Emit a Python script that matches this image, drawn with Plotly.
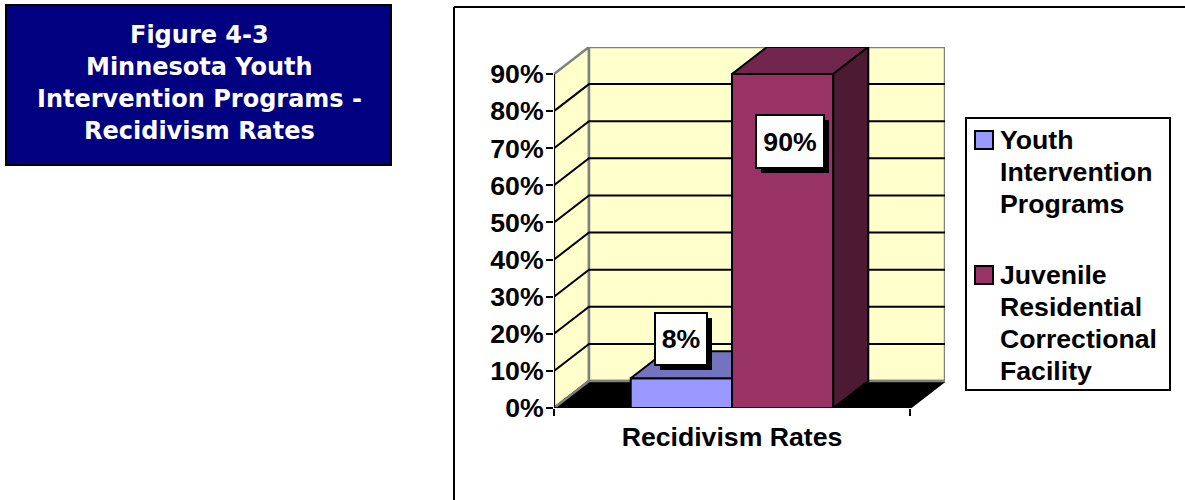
import plotly.graph_objects as go

# Chart data
category = "Recidivism Rates"
series_names = ["Youth Intervention Programs", "Juvenile Residential Correctional Facility"]
legend_lines = [["Youth", "Intervention", "Programs"],
                ["Juvenile", "Residential", "Correctional", "Facility"]]
series_values = [8, 90]
tick_values = [0, 10, 20, 30, 40, 50, 60, 70, 80, 90]
tick_labels = ["0%", "10%", "20%", "30%", "40%", "50%", "60%", "70%", "80%", "90%"]
title_lines = ["Figure 4-3", "Minnesota Youth", "Intervention Programs -", "Recidivism Rates"]

# Page geometry in pixels
W, H = 1185, 500
AX_L, AX_R, AX_B, AX_T = 554, 945, 408, 47
PX_PER_UNIT_Y = (408 - 74) / 90
FRONT_W = 356

# Oblique depth of the 3-D box, in data units
DX = 35 / FRONT_W
DY = 27 / PX_PER_UNIT_Y
BAR_W = 0.2845
BAR_LEFT = [0.2155, 0.5]

FRONT_COLORS = ["#9999FF", "#993366"]
TOP_COLORS = ["#7373BF", "#73264D"]
SIDE_COLORS = ["#4D4D80", "#4D1A33"]
WALL = "#FFFFCC"
GREY = "#808080"
TXT = "#000000"
FONT = "Liberation Sans"
FS = 26.67


def px(x):
    return x / W


def py(y):
    return 1 - y / H


def poly(xs, ys, fill, axes="", line="#000000", width=2):
    return go.Scatter(x=xs, y=ys, mode="lines", fill="toself", fillcolor=fill,
                      line=dict(color=line, width=width), hoverinfo="skip",
                      showlegend=False, xaxis="x" + axes, yaxis="y" + axes)


def seg(xs, ys, color="#000000", width=2, axes=""):
    return go.Scatter(x=xs, y=ys, mode="lines", line=dict(color=color, width=width),
                      hoverinfo="skip", showlegend=False, xaxis="x" + axes, yaxis="y" + axes)


fig = go.Figure()

# Side wall, back wall and floor
top_val = max(tick_values)
fig.add_trace(poly([0, 0, DX, DX, 0], [0, top_val, top_val + DY, DY, 0], WALL, line=GREY, width=2.5))
fig.add_trace(poly([DX, DX, 1 + DX, 1 + DX, DX], [DY, top_val + DY, top_val + DY, DY, DY], WALL, line=GREY, width=2.5))
for v in tick_values[1:-1]:
    fig.add_trace(seg([0, DX, 1 + DX], [v, v + DY, v + DY]))
fig.add_trace(poly([0, DX, 1 + DX, 1, 0], [0, DY, DY, 0, 0], "#000000", line="#000000"))
fig.add_trace(seg([0, DX, 1 + DX], [0, DY, DY], GREY, 2.5))
fig.add_trace(seg([0, 0], [0, top_val]))
fig.add_trace(seg([0, 1], [0, 0]))

# Front faces as real bars on an overlaying axis pair, so they sit above the walls
for name, val, left, col in zip(series_names, series_values, BAR_LEFT, FRONT_COLORS):
    fig.add_trace(go.Bar(x=[left + BAR_W / 2], y=[val], width=[BAR_W], name=name,
                         marker=dict(color=col, line=dict(color="#000000", width=2)),
                         showlegend=False, xaxis="x2", yaxis="y2"))

# Top and side faces; the short bar's top stops at the tall bar's front face
v0, v1 = series_values
l0, l1 = BAR_LEFT
clip = l1
fig.add_trace(poly([l0, l0 + DX, clip, clip, l0], [v0, v0 + DY, v0 + DY, v0, v0], TOP_COLORS[0], "2"))
r1 = l1 + BAR_W
fig.add_trace(poly([l1, l1 + DX, r1 + DX, r1, l1], [v1, v1 + DY, v1 + DY, v1, v1], TOP_COLORS[1], "2"))
fig.add_trace(poly([r1, r1 + DX, r1 + DX, r1, r1], [v1, v1 + DY, DY, 0, v1], SIDE_COLORS[1], "2"))

shapes = []
annotations = []

# Outer chart frame
shapes.append(dict(type="line", xref="paper", yref="paper", x0=px(454), x1=px(1185), y0=py(7), y1=py(7),
                   line=dict(color="#000000", width=2)))
shapes.append(dict(type="line", xref="paper", yref="paper", x0=px(454), x1=px(454), y0=py(7), y1=py(500),
                   line=dict(color="#000000", width=2)))

# Title panel
shapes.append(dict(type="rect", xref="paper", yref="paper", x0=px(6), x1=px(391), y0=py(5), y1=py(165),
                   fillcolor="#000080", line=dict(color="#000000", width=2)))
for i, line in enumerate(title_lines):
    annotations.append(dict(text=line, xref="paper", yref="paper", x=px(199.5), y=py(35 + 32 * i),
                            xanchor="center", yanchor="middle", showarrow=False,
                            font=dict(family="DejaVu Sans", size=24, color="#FFFFFF", weight=700)))

# Value labels with drop shadows
label_pos = [(681, 339, 50, 50), (790, 141.5, 66, 51)]
for val, (cx, cy, w, h) in zip(series_values, label_pos):
    xd = (cx - AX_L) / FRONT_W
    yd = (AX_B - cy) / PX_PER_UNIT_Y
    shapes.append(dict(type="rect", xref="x", yref="y", xsizemode="pixel", ysizemode="pixel",
                       xanchor=xd, yanchor=yd, x0=-w / 2 + 5, x1=w / 2 + 5, y0=-h / 2 - 5, y1=h / 2 - 5,
                       fillcolor="#000000", line=dict(color="#000000", width=2), layer="above"))
    annotations.append(dict(text=f"{val}%", xref="x", yref="y", x=xd, y=yd, showarrow=False,
                            width=w, height=h, align="center", valign="middle", borderpad=0,
                            bgcolor="#FFFFFF", bordercolor="#000000", borderwidth=2,
                            font=dict(family=FONT, size=FS, color=TXT, weight=700)))

# Legend panel
shapes.append(dict(type="rect", xref="paper", yref="paper", x0=px(966), x1=px(1170), y0=py(118), y1=py(390),
                   fillcolor="#FFFFFF", line=dict(color="#000000", width=2)))
first_line_y = [140, 275]
for lines, fy, col in zip(legend_lines, first_line_y, FRONT_COLORS):
    shapes.append(dict(type="rect", xref="paper", yref="paper", x0=px(975), x1=px(993), y0=py(fy - 9), y1=py(fy + 9),
                       fillcolor=col, line=dict(color="#000000", width=2)))
    for i, line in enumerate(lines):
        annotations.append(dict(text=line, xref="paper", yref="paper", x=px(998), y=py(fy + 32 * i),
                                xanchor="left", yanchor="middle", showarrow=False,
                                font=dict(family=FONT, size=FS, color=TXT, weight=700)))

x_range = [0, (AX_R - AX_L) / FRONT_W]
y_range = [0, (AX_B - AX_T) / PX_PER_UNIT_Y]
dom_x = [px(AX_L), px(AX_R)]
dom_y = [py(AX_B), py(AX_T)]
fig.update_layout(
    template="none",
    width=W, height=H, margin=dict(l=0, r=0, t=0, b=0), autosize=False,
    paper_bgcolor="#FFFFFF", plot_bgcolor="rgba(0,0,0,0)", showlegend=False,
    barmode="overlay", shapes=shapes, annotations=annotations,
    font=dict(family=FONT),
    xaxis=dict(domain=dom_x, range=x_range, showgrid=False, zeroline=False, showline=False, automargin=False,
               tickmode="array", tickvals=[0.5], ticktext=[category], ticks="",
               tickfont=dict(family=FONT, size=FS, color=TXT, weight=700), ticklabelstandoff=10,
               minor=dict(tickmode="array", tickvals=[0, 1], ticks="outside", ticklen=7, tickwidth=2,
                          tickcolor="#000000", showgrid=False)),
    yaxis=dict(domain=dom_y, range=y_range, showgrid=False, zeroline=False, showline=False, automargin=False,
               tickmode="array", tickvals=tick_values, ticktext=tick_labels,
               ticks="outside", ticklen=7, tickwidth=2, tickcolor="#000000", ticklabelstandoff=-3,
               tickfont=dict(family=FONT, size=FS, color=TXT, weight=700)),
    xaxis2=dict(domain=dom_x, range=x_range, overlaying="x", anchor="y2", visible=False),
    yaxis2=dict(domain=dom_y, range=y_range, overlaying="y", anchor="x2", visible=False),
)

fig.write_html("out.html")
